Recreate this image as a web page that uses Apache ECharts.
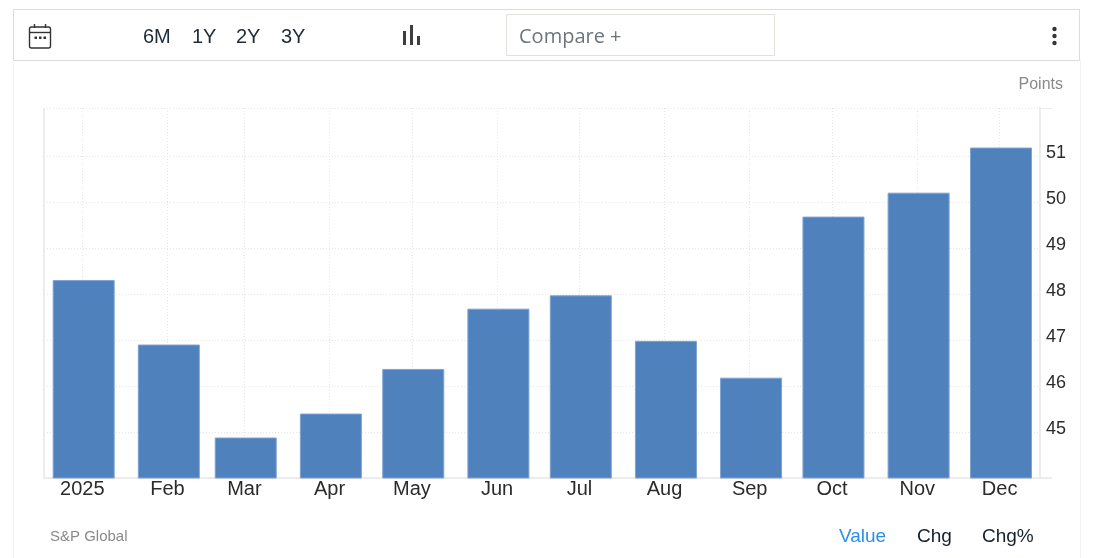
<!DOCTYPE html>
<html><head><meta charset="utf-8">
<style>html,body{margin:0;padding:0;background:#fff}#c{width:1097px;height:558px}</style>
<script src="https://cdn.jsdelivr.net/npm/echarts@6/dist/echarts.min.js"></script>
</head><body><div id="c"></div>
<script>
const tickDates = ['2025-01-01','2025-02-01','2025-03-01','2025-04-01','2025-05-01','2025-06-01','2025-07-01','2025-08-01','2025-09-01','2025-10-01','2025-11-01','2025-12-01'];
const monthLabels = ['2025','Feb','Mar','Apr','May','Jun','Jul','Aug','Sep','Oct','Nov','Dec'];
const values = [48.3,46.9,44.88,45.4,46.37,47.68,47.97,46.98,46.18,49.68,50.2,51.18];
const yLabels = [45,46,47,48,49,50,51];
const yTop = 52.04;
const rangeButtons = ['6M','1Y','2Y','3Y'];
const viewButtons = ['Value','Chg','Chg%'];

const ts = tickDates.map(d => Date.parse(d + 'T00:00:00Z'));
const DAY = 86400000;
const FONT = '"Liberation Sans", Arial, sans-serif';
const GRID = '#e6e6e6';
const FRAME = '#ececec';

const line = (x1,y1,x2,y2,stroke,lineWidth) => ({type:'line',silent:true,shape:{x1,y1,x2,y2},style:{stroke,lineWidth:lineWidth||1}});
const rect = (x,y,width,height,s) => ({type:'rect',silent:true,shape:{x,y,width,height},style:s});
const text = (x,y,t,font,fill,align) => ({type:'text',silent:true,x,y,style:{text:t,font,fill,textAlign:align||'left',textVerticalAlign:'middle'}});

const graphic = [
  line(13.5,60,13.5,558,'#f2f2f2'), line(1080.5,60,1080.5,558,'#f2f2f2'),
  rect(13.5,9.5,1066,51,{fill:'#fff',stroke:'#dcdcdc',lineWidth:1}),
  rect(506.5,14.5,268,41,{fill:'#fff',stroke:'#e2e2dc',lineWidth:1}),
  text(519,37,'Compare +','20px "Open Sans", sans-serif','#6c757d'),
  // calendar icon
  {type:'rect',silent:true,shape:{x:29.5,y:27,width:21,height:21,r:2},style:{fill:'none',stroke:'#333',lineWidth:1.4}},
  line(29.5,32.5,50.5,32.5,'#333',1.4), line(34.5,24,34.5,28,'#333',1.4), line(45.5,24,45.5,28,'#333',1.4),
  rect(34.5,36.5,2.5,2.5,{fill:'#333'}), rect(39,36.5,2.5,2.5,{fill:'#333'}), rect(43.5,36.5,2.5,2.5,{fill:'#333'}),
  // bar-type icon
  rect(403,31,3,14,{fill:'#3f3f3f'}), rect(410,25,3,20,{fill:'#3f3f3f'}), rect(417,36,3,9,{fill:'#3f3f3f'}),
  // menu dots
  {type:'circle',silent:true,shape:{cx:1054.5,cy:29,r:2.2},style:{fill:'#333'}},
  {type:'circle',silent:true,shape:{cx:1054.5,cy:36,r:2.2},style:{fill:'#333'}},
  {type:'circle',silent:true,shape:{cx:1054.5,cy:43,r:2.2},style:{fill:'#333'}},
  text(1063,85,'Points','16px '+FONT,'#8a8a8a','right'),
  text(50,537,'S&P Global','15px '+FONT,'#8a8a8a'),
  // axis frame pieces
  line(44,108,44,478,FRAME,2),
  line(1040,108.5,1052,108.5,FRAME,1), line(1040,478,1052,478,FRAME,2)
];
[143,192,236,281].forEach((x,i)=>graphic.push(text(x,37.5,rangeButtons[i],'20px '+FONT,'#1f2a37')));
[[839,'#2b8fe8'],[917,'#14202e'],[982,'#14202e']].forEach((p,i)=>graphic.push(text(p[0],537,viewButtons[i],'19px '+FONT,p[1])));

const chart = echarts.init(document.getElementById('c'),null,{renderer:'canvas'});
chart.setOption({
  animation:false,
  backgroundColor:'#fff',
  graphic,
  grid:{left:44,right:57,top:108,bottom:80,containLabel:false},
  xAxis:{
    type:'value',
    scale:true,
    min:ts[0]-13.95*DAY,
    max:ts[11]+14.7*DAY,
    axisLine:{show:true,onZero:false,lineStyle:{color:FRAME,width:2}},
    axisTick:{show:false,customValues:ts},
    axisLabel:{
      customValues:ts,
      color:'#2b2b2b',fontSize:20,fontFamily:FONT,margin:1,hideOverlap:false,showMinLabel:true,showMaxLabel:true,
      formatter:v=>monthLabels[ts.indexOf(+v)]||''
    },
    splitLine:{show:true,lineStyle:{color:GRID,width:1,type:[1,2]}}
  },
  yAxis:{
    type:'value',position:'right',min:44,max:yTop,
    axisLine:{show:true,onZero:false,lineStyle:{color:FRAME,width:2}},
    axisTick:{show:false,customValues:yLabels.concat([yTop])},
    axisLabel:{customValues:yLabels,color:'#2b2b2b',fontSize:18,fontFamily:FONT,margin:6,verticalAlign:'bottom',lineHeight:5},
    splitLine:{show:true,lineStyle:{color:GRID,width:1,type:[1,2]}}
  },
  series:[{
    type:'bar',
    barWidth:62,
    data:ts.map((t,i)=>[t+0.5*DAY,values[i]]),
    itemStyle:{color:'#4f81bd',borderColor:'#7ea2d2',borderWidth:1},
    emphasis:{disabled:true}
  }]
});
</script></body></html>
